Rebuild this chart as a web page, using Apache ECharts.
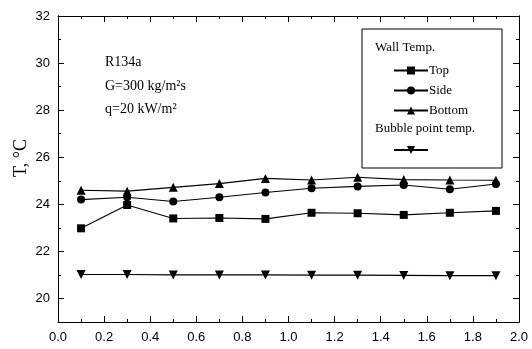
<!DOCTYPE html>
<html>
<head>
<meta charset="utf-8">
<script src="https://cdn.jsdelivr.net/npm/echarts@6/dist/echarts.min.js"></script>
<style>
html,body{margin:0;padding:0;background:#fff;}
#main{width:532px;height:349px;}
</style>
</head>
<body>
<div id="main"></div>
<script>
// x positions (mass quality)
var xVals = [0.1, 0.3, 0.5, 0.7, 0.9, 1.1, 1.3, 1.5, 1.7, 1.9];
// wall temperatures
var topT = [22.98, 23.97, 23.4, 23.42, 23.38, 23.64, 23.62, 23.55, 23.64, 23.72];
var sideT = [24.2, 24.3, 24.12, 24.3, 24.5, 24.68, 24.76, 24.82, 24.64, 24.86];
var bottomT = [24.6, 24.56, 24.72, 24.88, 25.1, 25.03, 25.15, 25.05, 25.03, 25.02];
// bubble point temp
var bubbleT = [21.02, 21.02, 21.0, 21.0, 21.0, 20.99, 20.99, 20.98, 20.97, 20.97];
// y tick values
var yMajor = [20, 22, 24, 26, 28, 30, 32];
var yMinor = [19, 21, 23, 25, 27, 29, 31];

function pairs(ys){
    return xVals.map(function(x, i){ return [x, ys[i]]; });
}

var myChart = echarts.init(document.getElementById('main'));
var serif = '"Liberation Serif", "DejaVu Serif", serif';
var sans = '"Liberation Sans", Arial, sans-serif';
var downTri = 'path://M0,0 L10,0 L5,9 Z';

function lineSeries(name, ys, symbol, size){
    return {
        name: name,
        type: 'line',
        data: pairs(ys),
        symbol: symbol,
        symbolSize: size,
        showSymbol: true,
        lineStyle: {color: '#000', width: 1.1},
        itemStyle: {color: '#000'},
        z: 2
    };
}

function xAx(pos, label){
    return {
        type: 'value', min: 0, max: 2, interval: 0.2, position: pos,
        axisLine: {show: true, lineStyle: {color: '#000', width: 1}},
        axisTick: {show: true, inside: true, length: 6, lineStyle: {color: '#000', width: 1}},
        minorTick: {show: true, splitNumber: 2, length: 3, lineStyle: {color: '#000', width: 1}},
        splitLine: {show: false},
        axisLabel: label ? {show: true, color: '#000', fontFamily: sans, fontSize: 13, margin: 9,
            formatter: function(v){ return v.toFixed(1); }} : {show: false}
    };
}

function yAx(pos, vals, len, label){
    return {
        type: 'value', min: 19, max: 32, position: pos,
        axisLine: {show: true, lineStyle: {color: '#000', width: 1}},
        axisTick: {show: true, inside: true, length: len, customValues: vals, lineStyle: {color: '#000', width: 1}},
        splitLine: {show: false},
        axisLabel: label ? {show: true, customValues: vals, color: '#000', fontFamily: sans, fontSize: 13, margin: 8} : {show: false}
    };
}

myChart.setOption({
    backgroundColor: '#fff',
    animation: false,
    grid: {left: 58, right: 13, top: 16, bottom: 27},
    xAxis: [xAx('bottom', true), xAx('top', false)],
    yAxis: [
        yAx('left', yMajor, 6, true),
        yAx('left', yMinor, 3, false),
        yAx('right', yMajor, 6, false),
        yAx('right', yMinor, 3, false)
    ],
    legend: [{
        data: ['Top', 'Side', 'Bottom'],
        orient: 'vertical',
        left: 393, top: 64,
        padding: 0,
        itemWidth: 34, itemHeight: 10, itemGap: 7,
        textStyle: {color: '#000', fontFamily: serif, fontSize: 13, padding: [0, 0, 0, -4]},
        selectedMode: false,
        z: 6
    }, {
        data: ['Bubble point temp.'],
        left: 393, top: 145,
        padding: 0,
        itemWidth: 34, itemHeight: 10,
        formatter: function(){ return ''; },
        selectedMode: false,
        z: 6
    }],
    graphic: [
        {type: 'rect', shape: {x: 362, y: 29, width: 140, height: 139}, style: {fill: '#fff', stroke: '#000', lineWidth: 1}, z: 5},
        {type: 'text', left: 375, top: 41, style: {text: 'Wall Temp.', fill: '#000', font: '13px ' + serif}, z: 6},
        {type: 'text', left: 375, top: 122, style: {text: 'Bubble point temp.', fill: '#000', font: '13px ' + serif}, z: 6},
        {type: 'text', left: 105, top: 55, style: {text: 'R134a', fill: '#000', font: '14px ' + serif}},
        {type: 'text', left: 105, top: 79, style: {text: 'G=300 kg/m\u00B2s', fill: '#000', font: '14px ' + serif}},
        {type: 'text', left: 105, top: 102, style: {text: 'q=20 kW/m\u00B2', fill: '#000', font: '14px ' + serif}},
        {type: 'text', x: 21, y: 158, rotation: Math.PI / 2,
            style: {text: 'T, \u00B0C', fill: '#000', font: '18px ' + serif, align: 'center', verticalAlign: 'middle'}}
    ],
    series: [
        lineSeries('Top', topT, 'rect', 8),
        lineSeries('Side', sideT, 'circle', 8),
        lineSeries('Bottom', bottomT, 'triangle', 9),
        lineSeries('Bubble point temp.', bubbleT, downTri, 9)
    ]
});
</script>
</body>
</html>
